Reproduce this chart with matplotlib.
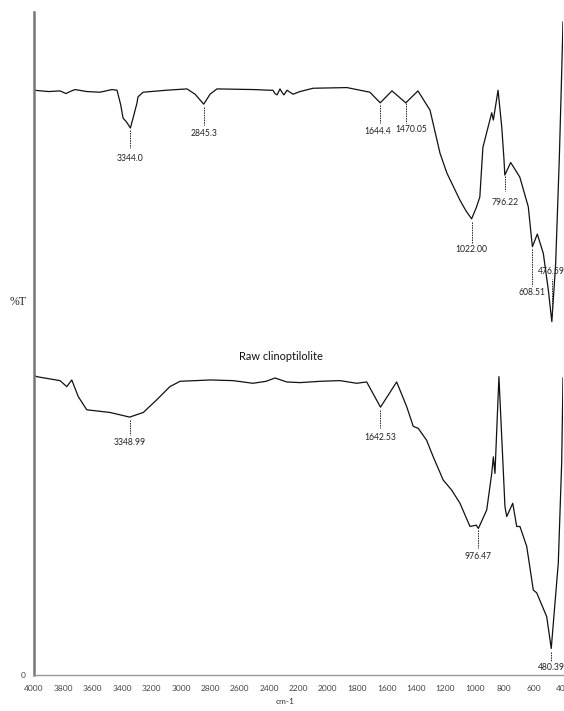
import numpy as np
import matplotlib
matplotlib.use("Agg")
import matplotlib.pyplot as plt

# upper spectrum (wavenumber cm-1, %T in arbitrary units 0-100)
top_wn = [4000, 3900, 3823, 3782, 3755, 3721, 3640, 3551, 3470, 3435,
          3410, 3394, 3370, 3344, 3320, 3300, 3292, 3258, 3100, 2959,
          2904, 2845, 2802, 2755, 2500, 2400, 2374, 2360, 2346, 2326,
          2310, 2299, 2278, 2237, 2190, 2101, 1870, 1714, 1644, 1564,
          1470, 1387, 1305, 1237, 1190, 1101, 1060, 1022, 990, 966,
          945, 885, 874, 842, 817, 802, 796, 756, 694, 636,
          615, 608, 575, 534, 500, 476, 450, 425, 410, 400]
top_T = [88.2, 88.0, 88.1, 87.7, 88.0, 88.3, 88.0, 87.9, 88.3, 88.2,
         86.0, 84.0, 83.4, 82.5, 84.5, 86.2, 87.2, 87.9, 88.2, 88.4,
         87.6, 86.1, 87.6, 88.4, 88.3, 88.2, 88.2, 87.7, 87.5, 88.4,
         87.8, 87.5, 88.2, 87.6, 88.0, 88.5, 88.6, 87.9, 86.3, 88.1,
         86.3, 88.1, 85.2, 78.7, 75.7, 71.6, 70.0, 68.8, 70.5, 72.1,
         79.6, 84.8, 83.7, 88.2, 82.7, 77.9, 75.4, 77.3, 75.1, 70.6,
         66.0, 64.6, 66.5, 63.6, 58.1, 53.3, 62.0, 78.0, 90.0, 98.5]

# lower spectrum: raw clinoptilolite
bot_wn = [4000, 3982, 3823, 3777, 3743, 3699, 3641, 3483, 3349, 3256,
          3165, 3075, 3006, 2800, 2646, 2510, 2420, 2360, 2280, 2190,
          2050, 1918, 1804, 1736, 1642, 1532, 1464, 1419, 1385, 1328,
          1283, 1215, 1158, 1101, 1033, 990, 976, 919, 885, 874,
          863, 836, 795, 783, 742, 715, 693, 647, 602, 579,
          511, 480, 432, 409, 400]
bot_T = [45.2, 45.0, 44.4, 43.5, 44.5, 42.0, 40.0, 39.6, 38.9, 39.6,
         41.5, 43.5, 44.3, 44.5, 44.4, 44.0, 44.3, 44.8, 44.2, 44.1,
         44.3, 44.4, 44.0, 44.2, 40.4, 44.2, 40.5, 37.5, 37.2, 35.4,
         32.9, 29.4, 27.9, 25.9, 22.4, 22.6, 22.1, 24.9, 30.4, 32.9,
         30.4, 45.0, 25.4, 23.9, 25.9, 22.4, 22.4, 19.4, 12.8, 12.4,
         8.8, 4.0, 16.9, 32.0, 44.8]

top_peaks = [3344.0, 2845.3, 1644.4, 1470.05, 1022.00, 796.22, 608.51, 476.59]
top_labels = ["3344.0", "2845.3", "1644.4", "1470.05", "1022.00", "796.22", "608.51", "476.59"]
bot_peaks = [3348.99, 1642.53, 976.47, 480.39]
bot_labels = ["3348.99", "1642.53", "976.47", "480.39"]

xticks = list(range(4000, 399, -200))

# leader layout in pixels (down = positive): gap, line length, text gap, text x shift
top_lay = [(2, 18, 10, 0), (3, 18, 8, 0), (2, 18, 9, -3), (0, 20, 7, 6), (3, 21, 7, 0),
           (2, 15, 11, 0), (3, 37, 6, 0), (-5, -37, -7.5, 0)]
bot_lay = [(3, 15, 7, 0), (3, 18, 9, 0), (2, 18, 8, 0), (4, 9, 6, 0)]

W, H = 564, 711
fig = plt.figure(figsize=(W / 100, H / 100), dpi=100)
ax = fig.add_axes([34 / W, (H - 675) / H, 529 / W, 663 / H])
ax.set_xlim(4000, 400)
ax.set_ylim(0, 100)
PX = 100 / 663   # data units per pixel, vertical
PXW = 3600 / 529  # cm-1 per pixel, horizontal

ax.plot(top_wn, top_T, color="#111", lw=0.9)
ax.plot(bot_wn, bot_T, color="#111", lw=0.9)

lab_font = dict(family=["Lato", "DejaVu Sans"], fontsize=6.2, color="#222")


def leaders(wn, T, peaks, labels, lay):
    xs, ys = np.array(wn)[::-1], np.array(T)[::-1]
    for p, lab, (g, l, tg, dx) in zip(peaks, labels, lay):
        y0 = np.interp(p, xs, ys)
        y1 = y0 - g * PX
        y2 = y1 - l * PX
        ax.plot([p, p], [y1, y2], color="#222", lw=0.7, ls=(0, (1.5, 1)))
        ax.text(p - dx * PXW, y2 - tg * PX, lab, ha="center", va="center",
                clip_on=False, **lab_font)


leaders(top_wn, top_T, top_peaks, top_labels, top_lay)
leaders(bot_wn, bot_T, bot_peaks, bot_labels, bot_lay)

ax.text(2319, 48.0, "Raw clinoptilolite", ha="center", va="center",
        family=["Lato", "DejaVu Sans"], fontsize=7.9, color="#111")

for s in ["top", "right"]:
    ax.spines[s].set_visible(False)
ax.spines["left"].set_color("#777")
ax.spines["left"].set_linewidth(1.8)
ax.spines["bottom"].set_color("#999")
ax.spines["bottom"].set_linewidth(1.0)

ax.set_xticks(xticks)
ax.set_xticklabels([str(t) for t in xticks], family=["Lato", "DejaVu Sans"],
                   fontsize=6.0, color="#444")
ax.tick_params(axis="x", length=0, pad=7)
ax.set_yticks([0])
ax.set_yticklabels(["0"], family=["Lato", "DejaVu Sans"], fontsize=6, color="#444")
ax.tick_params(axis="y", length=0, pad=6)

fig.text(18 / W, 1 - 302 / H, "%T", ha="center", va="center",
         family=["Liberation Serif", "DejaVu Serif"], fontsize=8.5, color="#222")
fig.text(285 / W, 1 - 702 / H, "cm-1", ha="center", va="center",
         family=["Lato", "DejaVu Sans"], fontsize=6, color="#333")

fig.savefig("out.png", dpi=100)
